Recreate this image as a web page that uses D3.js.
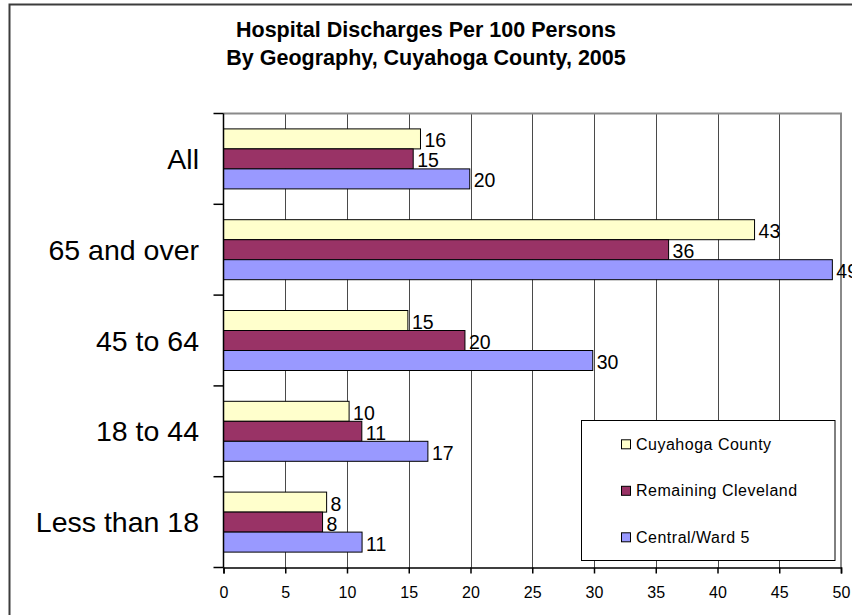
<!DOCTYPE html>
<html>
<head>
<meta charset="utf-8">
<script src="https://cdn.jsdelivr.net/npm/d3@7"></script>
<style>
  html, body { margin: 0; padding: 0; background: #fff; }
  svg { display: block; font-family: "Liberation Sans", Arial, sans-serif; }
</style>
</head>
<body>
<svg id="chart" width="852" height="615"></svg>
<script>
const categories = ["All", "65 and over", "45 to 64", "18 to 44", "Less than 18"];
const seriesNames = ["Cuyahoga County", "Remaining Cleveland", "Central/Ward 5"];
const cuyahogaCounty = [15.95, 43.0, 14.93, 10.17, 8.35];
const remainingCleveland = [15.36, 36.04, 19.55, 11.2, 8.02];
const centralWard5 = [19.94, 49.3, 29.9, 16.55, 11.22];
const xTicks = [0, 5, 10, 15, 20, 25, 30, 35, 40, 45, 50];
const seriesColors = ["#FFFFCC", "#993366", "#9999FF"];
const titleLines = ["Hospital Discharges Per 100 Persons", "By Geography, Cuyahoga County, 2005"];

const seriesValues = [cuyahogaCounty, remainingCleveland, centralWard5];

const svg = d3.select("#chart");
const plot = { left: 223.5, right: 841, top: 113.5, bottom: 567.5 };

// outer frame (extends past the visible image on right/bottom)
svg.append("rect")
  .attr("x", 9.5).attr("y", 4.5)
  .attr("width", 900).attr("height", 700)
  .attr("fill", "none").attr("stroke", "#3c3c3c").attr("stroke-width", 2);

// title
svg.append("g").selectAll("text").data(titleLines).join("text")
  .attr("x", 426).attr("y", (d, i) => 37 + i * 28)
  .attr("text-anchor", "middle")
  .attr("font-size", 21.5).attr("font-weight", "bold")
  .attr("fill", "#000")
  .text(d => d);

const x = d3.scaleLinear().domain([0, 50]).range([plot.left, plot.right]);
const y = d3.scaleBand().domain(categories).range([plot.top, plot.bottom]).padding(0);
const ySub = d3.scaleBand().domain(seriesNames).range([0, y.bandwidth()])
  .paddingInner(0).paddingOuter(0.77);

// gridlines
svg.append("g").selectAll("line").data(xTicks.filter(t => t > 0 && t < 50)).join("line")
  .attr("x1", d => Math.round(x(d)) + 0.5).attr("x2", d => Math.round(x(d)) + 0.5)
  .attr("y1", plot.top).attr("y2", plot.bottom)
  .attr("stroke", "#4a4a4a").attr("stroke-width", 1);

// plot border top & right (gray)
svg.append("path")
  .attr("d", `M${plot.left},${plot.top}H${plot.right}V${plot.bottom}`)
  .attr("fill", "none").attr("stroke", "#8a8a8a").attr("stroke-width", 2);

// bars
const barData = [];
categories.forEach((c, ci) => {
  seriesNames.forEach((s, si) => {
    barData.push({ cat: c, series: s, si, value: seriesValues[si][ci] });
  });
});

svg.append("g").selectAll("rect").data(barData).join("rect")
  .attr("x", x(0))
  .attr("y", d => y(d.cat) + ySub(d.series))
  .attr("width", d => x(d.value) - x(0))
  .attr("height", ySub.bandwidth())
  .attr("fill", d => seriesColors[d.si])
  .attr("stroke", "#000").attr("stroke-width", 1);

// value labels
svg.append("g").selectAll("text").data(barData).join("text")
  .attr("x", d => x(d.value) + 4)
  .attr("y", d => y(d.cat) + ySub(d.series) + ySub.bandwidth() / 2 + 8.5)
  .attr("font-size", 19.5)
  .attr("fill", "#000")
  .text(d => Math.round(d.value));

// y axis
const yAxisG = svg.append("g");
yAxisG.append("line")
  .attr("x1", plot.left).attr("x2", plot.left)
  .attr("y1", plot.top).attr("y2", plot.bottom)
  .attr("stroke", "#000").attr("stroke-width", 1.5);
const boundaries = categories.map(c => y(c)).concat([plot.bottom]);
yAxisG.selectAll("line.tick").data(boundaries).join("line")
  .attr("class", "tick")
  .attr("x1", plot.left - 10).attr("x2", plot.left)
  .attr("y1", d => d).attr("y2", d => d)
  .attr("stroke", "#000").attr("stroke-width", 1.5);
yAxisG.selectAll("text").data(categories).join("text")
  .attr("x", 199).attr("y", d => y(d) + y.bandwidth() / 2 + 10)
  .attr("text-anchor", "end")
  .attr("font-size", 28.5)
  .attr("fill", "#000")
  .text(d => d);

// x axis
const xAxis = d3.axisBottom(x).tickValues(xTicks).tickSize(6).tickFormat(d3.format("d"));
const xAxisG = svg.append("g")
  .attr("transform", `translate(0,${plot.bottom})`)
  .call(xAxis);
xAxisG.select(".domain").attr("stroke", "#000").attr("stroke-width", 1.5);
xAxisG.selectAll(".tick line").attr("stroke", "#000").attr("stroke-width", 1.5);
xAxisG.selectAll(".tick text")
  .attr("font-family", "Liberation Sans, Arial, sans-serif")
  .attr("font-size", 16)
  .attr("fill", "#000").attr("y", 19);

// legend
const legend = svg.append("g");
legend.append("rect")
  .attr("x", 581.5).attr("y", 420.5).attr("width", 253.5).attr("height", 140)
  .attr("fill", "#fff").attr("stroke", "#000").attr("stroke-width", 1);
const legendY = d3.scalePoint().domain(seriesNames).range([444.3, 537.3]);
legend.selectAll("rect.sw").data(seriesNames).join("rect")
  .attr("class", "sw")
  .attr("x", 621.5).attr("y", d => legendY(d) - 4.5)
  .attr("width", 9).attr("height", 9)
  .attr("fill", (d, i) => seriesColors[i])
  .attr("stroke", "#000").attr("stroke-width", 1);
legend.selectAll("text").data(seriesNames).join("text")
  .attr("x", 636).attr("y", d => legendY(d) + 5.5)
  .attr("font-size", 16).attr("letter-spacing", 0.5)
  .attr("fill", "#000")
  .text(d => d);
</script>
</body>
</html>
